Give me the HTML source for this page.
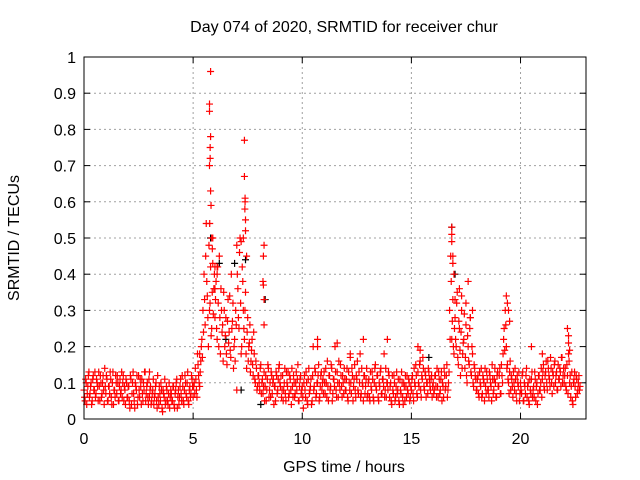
<!DOCTYPE html>
<html><head><meta charset="utf-8"><style>
html,body{margin:0;padding:0;background:#fff;}
svg{display:block;font-family:"Liberation Sans",sans-serif;}
</style></head><body>
<svg id="chart" width="640" height="480">
<text x="344" y="32" font-size="16" text-anchor="middle">Day 074 of 2020, SRMTID for receiver chur</text>
<text x="344" y="472" font-size="16" text-anchor="middle">GPS time / hours</text>
<text transform="translate(19,238) rotate(-90)" font-size="16" text-anchor="middle">SRMTID / TECUs</text>
<g id="grid"></g>
<g id="ticks"></g>
<g id="black"></g>
<g id="red"></g>
<rect x="84" y="57" width="502" height="362" fill="none" stroke="#000" stroke-width="1"/>
</svg>
<script>
const xTicks=[0,5,10,15,20];
const yTicks=[0,0.1,0.2,0.3,0.4,0.5,0.6,0.7,0.8,0.9,1];
const yTickLabels=["0","0.1","0.2","0.3","0.4","0.5","0.6","0.7","0.8","0.9","1"];
const gridStep=0.05;
const baseVals=[
.08,.05,.10,.07,.12,.06,.09,.04,.11,.08,.13,.07,.10,.05,.09,.12,.06,.10,.08,.14,
.07,.11,.05,.09,.13,.06,.10,.04,.08,.12,.07,.10,.05,.11,.08,.06,.12,.09,.04,.10,
.06,.09,.03,.11,.07,.13,.05,.10,.08,.04,.12,.06,.09,.11,.05,.08,.13,.07,.10,.04,
.06,.09,.05,.08,.04,.07,.10,.03,.06,.09,.05,.08,.02,.07,.11,.05,.08,.04,.10,.06,
.07,.05,.09,.03,.08,.11,.06,.04,.09,.07,.12,.05,.08,.10,.06,.13,.04,.09,.07,.11,
.06,.10,.14,.08,.18,.12,.09,.16,.22,.30,.40,.26,.54,.34,.20,.30,.42,.25,.50,.36,
.28,.38,.22,.32,.45,.18,.30,.26,.35,.20,.28,.15,.33,.24,.19,.40,.27,.14,.22,.30,
.48,.36,.25,.50,.18,.42,.30,.22,.35,.14,.28,.20,.26,.16,.22,.12,.18,.10,.14,.09,
.12,.08,.15,.10,.07,.13,.09,.05,.11,.14,.08,.06,.12,.10,.04,.09,.13,.07,.11,.15,
.09,.06,.12,.08,.14,.05,.10,.13,.07,.11,.04,.09,.12,.06,.10,.08,.15,.05,.11,.07,
.09,.03,.12,.06,.10,.04,.14,.08,.11,.05,.20,.09,.13,.07,.10,.15,.06,.12,.08,.11,
.13,.07,.10,.16,.05,.12,.09,.14,.07,.11,.20,.08,.13,.06,.10,.15,.09,.12,.07,.11,
.08,.14,.05,.10,.17,.07,.12,.09,.15,.06,.11,.08,.13,.18,.07,.10,.05,.12,.09,.14,
.07,.11,.05,.09,.13,.06,.10,.15,.08,.12,.05,.09,.14,.07,.11,.18,.08,.06,.10,.13,
.06,.10,.04,.08,.12,.05,.09,.07,.11,.04,.08,.13,.06,.10,.05,.09,.12,.07,.10,.06,
.08,.12,.05,.10,.15,.07,.13,.09,.16,.06,.11,.14,.08,.12,.10,.07,.13,.09,.11,.06,
.10,.08,.12,.06,.09,.13,.07,.11,.05,.09,.14,.08,.12,.06,.10,.30,.45,.22,.33,.18,
.28,.20,.35,.15,.25,.12,.30,.18,.22,.14,.26,.10,.20,.15,.28,.12,.18,.09,.14,.11,
.08,.12,.06,.10,.14,.07,.11,.05,.09,.13,.08,.06,.12,.09,.15,.07,.11,.10,.06,.13,
.09,.14,.07,.12,.18,.25,.30,.20,.15,.10,.13,.08,.11,.06,.10,.14,.07,.12,.09,.05,
.10,.07,.13,.05,.09,.12,.06,.10,.04,.08,.11,.06,.09,.13,.05,.10,.07,.12,.08,.14,
.11,.15,.08,.13,.10,.16,.12,.09,.14,.07,.12,.15,.10,.13,.08,.11,.14,.09,.17,.12,
.10,.14,.08,.12,.18,.10,.06,.13,.04,.11,.09,.12,.07,.10,.08];
const baseValsB=[
.06,.11,.04,.09,.13,.07,.10,.05,.12,.08,.06,.11,.09,.13,.05,.10,.07,.12,.04,.09,
.12,.05,.09,.07,.11,.04,.13,.08,.06,.10,.12,.05,.09,.07,.13,.10,.05,.08,.11,.06,
.09,.05,.12,.04,.10,.07,.03,.09,.12,.06,.08,.11,.04,.07,.10,.13,.05,.09,.06,.11,
.08,.04,.07,.11,.06,.09,.05,.12,.04,.07,.10,.03,.08,.06,.04,.09,.05,.07,.03,.08,
.05,.09,.04,.07,.10,.03,.08,.06,.11,.05,.09,.04,.12,.07,.10,.05,.08,.06,.12,.09,
.09,.07,.11,.06,.15,.10,.13,.20,.17,.24,.33,.45,.38,.28,.48,.32,.23,.35,.29,.40,
.33,.25,.42,.20,.28,.36,.24,.16,.30,.23,.18,.27,.21,.34,.17,.25,.32,.20,.16,.26,
.40,.28,.46,.32,.20,.38,.25,.30,.18,.24,.16,.21,.13,.19,.15,.24,.11,.16,.08,.12,
.10,.14,.07,.11,.09,.05,.12,.08,.15,.06,.10,.13,.07,.11,.09,.05,.12,.08,.14,.10,
.12,.08,.05,.10,.07,.13,.09,.06,.12,.08,.14,.06,.10,.07,.13,.11,.05,.09,.12,.08,
.06,.10,.08,.13,.05,.11,.07,.09,.04,.12,.08,.14,.06,.10,.12,.05,.09,.13,.10,.07,
.10,.14,.06,.09,.12,.08,.15,.05,.11,.09,.13,.06,.10,.16,.08,.12,.06,.10,.14,.08,
.11,.06,.13,.08,.10,.14,.05,.11,.08,.12,.16,.07,.10,.06,.14,.09,.12,.07,.11,.06,
.10,.06,.13,.08,.11,.05,.14,.09,.12,.06,.10,.13,.07,.11,.09,.06,.14,.10,.08,.12,
.09,.05,.12,.07,.10,.06,.13,.08,.05,.11,.07,.10,.04,.09,.12,.06,.08,.11,.05,.09,
.11,.07,.14,.09,.12,.06,.10,.15,.08,.12,.17,.09,.13,.06,.10,.14,.11,.08,.12,.09,
.07,.12,.09,.14,.06,.11,.08,.13,.10,.06,.12,.09,.15,.08,.13,.22,.38,.27,.20,.25,
.22,.32,.17,.27,.19,.24,.14,.21,.29,.17,.12,.23,.16,.25,.13,.20,.10,.15,.12,.08,
.11,.07,.13,.09,.06,.12,.10,.14,.07,.11,.08,.13,.10,.05,.11,.08,.14,.06,.12,.09,
.12,.07,.15,.10,.22,.19,.26,.14,.11,.07,.16,.12,.09,.13,.08,.11,.05,.10,.13,.07,
.08,.12,.05,.10,.07,.14,.09,.05,.11,.07,.13,.08,.06,.11,.09,.04,.12,.08,.10,.06,
.13,.09,.12,.16,.08,.14,.11,.17,.10,.13,.09,.16,.12,.08,.15,.11,.13,.17,.10,.14,
.12,.09,.15,.07,.16,.12,.09,.05,.10,.13,.06,.11,.08,.12,.09];
const peakTimes=[5.8,5.75,5.75,5.8,5.78,5.78,5.75,5.8,5.82,5.76,5.85,5.88,5.9,6.0,6.1,6.0,6.1,
7.35,7.35,7.38,7.38,7.37,7.4,7.4,7.3,7.2,7.45,8.25,8.22,8.2,8.22,8.25,8.25,
16.85,16.85,16.85,16.9,16.9,16.95,17.0,17.2,17.3,17.5,17.6,17.7,17.8,
19.35,19.4,19.45,19.5,22.15,22.2,22.2,22.25,
10.7,10.7,11.6,12.2,12.8,13.9,15.3,15.4,20.5,21,3.0,5.3,7.0];
const peakVals=[.96,.87,.85,.78,.75,.72,.70,.63,.59,.54,.50,.47,.43,.42,.42,.36,.40,
.77,.67,.61,.60,.58,.55,.52,.50,.49,.45,.48,.45,.38,.37,.33,.26,
.53,.51,.49,.45,.43,.40,.33,.36,.34,.32,.38,.28,.30,
.34,.32,.30,.27,.25,.23,.21,.19,
.22,.20,.21,.18,.22,.22,.20,.19,.20,.18,.13,.18,.08];
const blackTimes=[5.8,6.2,6.9,7.4,8.3,16.85,17.0,7.2,8.1,15.8,6.5];
const blackVals=[.50,.43,.43,.44,.33,.53,.40,.08,.04,.17,.22];

const X0=84,X1=586,Y0=419,Y1=57,XMAX=23;
const sx=t=>X0+(X1-X0)*t/XMAX;
const sy=v=>Y0-(Y0-Y1)*v;
const NS="http://www.w3.org/2000/svg";
function mk(tag,attrs,parent){const e=document.createElementNS(NS,tag);for(const k in attrs)e.setAttribute(k,attrs[k]);parent.appendChild(e);return e;}
const grid=document.getElementById('grid'),ticks=document.getElementById('ticks');
yTicks.forEach((v,i)=>{
  const y=sy(v);
  if(i>0&&i<yTicks.length-1){const l=mk('line',{x1:X0,x2:X1,y1:y,y2:y,stroke:'#a0a0a0','stroke-dasharray':'2,3'},grid);
  
  }
  mk('line',{x1:X0,x2:X0+6,y1:y,y2:y,stroke:'#000'},ticks);
  mk('line',{x1:X1,x2:X1-6,y1:y,y2:y,stroke:'#000'},ticks);
  const t=mk('text',{x:X0-8,y:y+6,'font-size':16,'text-anchor':'end'},ticks);
  t.textContent=yTickLabels[i];
  
  
});
xTicks.forEach(v=>{
  const x=sx(v);
  if(v>0){const l=mk('line',{x1:x,x2:x,y1:Y0,y2:Y1,stroke:'#a0a0a0','stroke-dasharray':'2,3'},grid);
  
  }
  mk('line',{x1:x,x2:x,y1:Y0,y2:Y0-6,stroke:'#000'},ticks);
  mk('line',{x1:x,x2:x,y1:Y1,y2:Y1+6,stroke:'#000'},ticks);
  const t=mk('text',{x:x,y:Y0+25,'font-size':16,'text-anchor':'middle'},ticks);
  t.textContent=String(v);
  
  
});
function plus(g,t,v,color){
  const x=sx(t),y=sy(v);
  const p=mk('path',{d:`M${x-3.5},${y}H${x+3.5}M${x},${y-3.5}V${y+3.5}`,stroke:color,'stroke-width':1.2,fill:'none'},g);
  
  
}
const black=document.getElementById('black'),red=document.getElementById('red');
blackTimes.forEach((t,i)=>plus(black,t,blackVals[i],'#000'));
baseVals.forEach((v,i)=>plus(red,i*gridStep,v,'#f00'));
baseValsB.forEach((v,i)=>plus(red,i*gridStep+gridStep/2,v,'#f00'));
peakTimes.forEach((t,i)=>plus(red,t,peakVals[i],'#f00'));
</script>
</body></html>
